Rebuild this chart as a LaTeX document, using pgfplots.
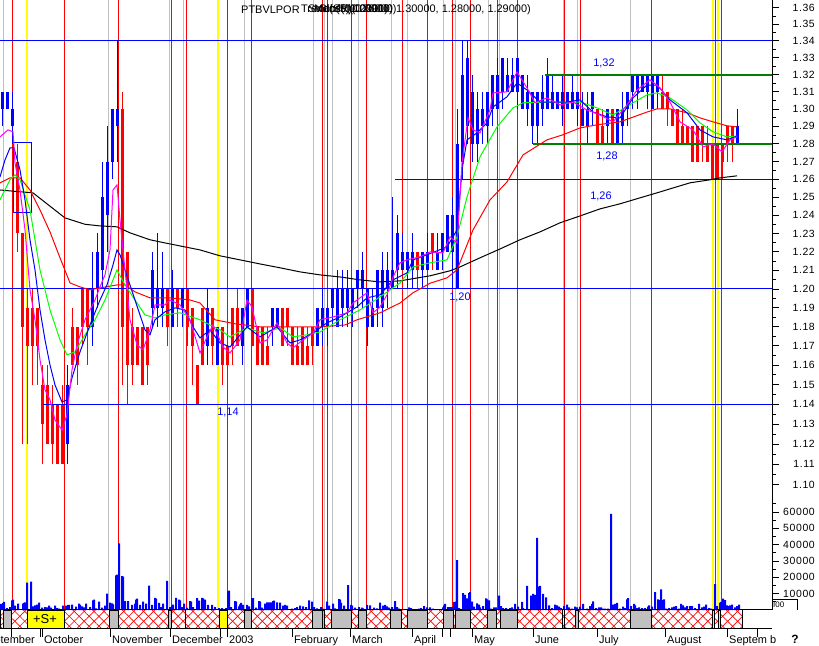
\documentclass[border=0pt]{standalone}
\usepackage{pgfplots}
\pgfplotsset{compat=1.18}
\usepackage{fontspec}
\setmainfont{Liberation Sans}
\newfontfamily\tickfont[LetterSpace=6]{Liberation Sans}
\usetikzlibrary{patterns.meta}
\definecolor{cred}{RGB}{255,0,0}
\definecolor{cblue}{RGB}{0,0,255}
\definecolor{cgreen}{RGB}{0,255,0}
\definecolor{dgreen}{RGB}{0,128,0}
\definecolor{cmag}{RGB}{255,0,255}
\definecolor{cgrey}{RGB}{192,192,192}
\definecolor{cyel}{RGB}{255,255,0}
\begin{document}
\begin{tikzpicture}
\path[use as bounding box] (0,0) rectangle (819bp,646bp);
% ================= PRICE PANEL =================
\begin{axis}[
  at={(0bp,36bp)}, anchor=south west,
  scale only axis, width=772bp, height=610bp,
  xmin=0, xmax=772, ymode=log, ymin=1.0402, ymax=1.3647,
  axis x line=none, axis y line*=right,
  y axis line style={-, black, line width=0.8bp},
  ytick={1.10,1.11,1.12,1.13,1.14,1.15,1.16,1.17,1.18,1.19,1.20,1.21,1.22,1.23,1.24,1.25,1.26,1.27,1.28,1.29,1.30,1.31,1.32,1.33,1.34,1.35,1.36},
  yticklabels={1.10,1.11,1.12,1.13,1.14,1.15,1.16,1.17,1.18,1.19,1.20,1.21,1.22,1.23,1.24,1.25,1.26,1.27,1.28,1.29,1.30,1.31,1.32,1.33,1.34,1.35,1.36},
  minor ytick={1.105,1.115,1.125,1.135,1.145,1.155,1.165,1.175,1.185,1.195,1.205,1.215,1.225,1.235,1.245,1.255,1.265,1.275,1.285,1.295,1.305,1.315,1.325,1.335,1.345,1.355},
  tick align=outside, major tick length=7bp, minor tick length=4bp,
  tick style={black, line width=0.8bp},
  yticklabel style={anchor=east, inner sep=0pt, xshift=36bp, font=\tickfont\fontsize{10.5}{12}\selectfont},
]
% vertical grey lines
\addplot[cgrey, line width=1bp, unbounded coords=jump] coordinates {
(3,1.0402)(3,1.3647)(3,nan)(108,1.0402)(108,1.3647)(108,nan)(169,1.0402)(169,1.3647)(169,nan)
(183,1.0402)(183,1.3647)(183,nan)(244,1.0402)(244,1.3647)(244,nan)(313,1.0402)(313,1.3647)(313,nan)
(324,1.0402)(324,1.3647)(324,nan)(332,1.0402)(332,1.3647)(332,nan)(358,1.0402)(358,1.3647)(358,nan)
(391,1.0402)(391,1.3647)(391,nan)(407,1.0402)(407,1.3647)(407,nan)(443,1.0402)(443,1.3647)(443,nan)
(455,1.0402)(455,1.3647)(455,nan)(488,1.0402)(488,1.3647)(488,nan)(499,1.0402)(499,1.3647)(499,nan)
(563,1.0402)(563,1.3647)(563,nan)(577,1.0402)(577,1.3647)(577,nan)(630,1.0402)(630,1.3647)(630,nan)};
% vertical red lines
\addplot[cred, line width=1bp, unbounded coords=jump] coordinates {
(12,1.0402)(12,1.3647)(12,nan)(64,1.0402)(64,1.3647)(64,nan)(118,1.0402)(118,1.3647)(118,nan)
(171,1.0402)(171,1.3647)(171,nan)(186,1.0402)(186,1.3647)(186,nan)(227,1.0402)(227,1.3647)(227,nan)
(251,1.0402)(251,1.3647)(251,nan)(322,1.0402)(322,1.3647)(322,nan)(327,1.0402)(327,1.3647)(327,nan)
(351,1.0402)(351,1.3647)(351,nan)(366,1.0402)(366,1.3647)(366,nan)(402,1.0402)(402,1.3647)(402,nan)
(427,1.0402)(427,1.3647)(427,nan)(452,1.0402)(452,1.3647)(452,nan)(470,1.0402)(470,1.3647)(470,nan)
(497,1.0402)(497,1.3647)(497,nan)(517,1.0402)(517,1.3647)(517,nan)(564,1.0402)(564,1.3647)(564,nan)
(580,1.0402)(580,1.3647)(580,nan)(651,1.0402)(651,1.3647)(651,nan)(715,1.0402)(715,1.3647)(715,nan)
(721,1.0402)(721,1.3647)(721,nan)};
% vertical yellow lines
\addplot[cyel, line width=1.5bp, unbounded coords=jump] coordinates {
(27,1.0402)(27,1.3647)(27,nan)(218,1.0402)(218,1.3647)(218,nan)(713,1.0402)(713,1.3647)(713,nan)
(718,1.0402)(718,1.3647)(718,nan)};
% ---- blue candles: wicks
\addplot[cblue, line width=1bp, unbounded coords=jump] coordinates {
(2,1.29)(2,1.31)(2,nan)(7,1.30)(7,1.31)(7,nan)(12,1.28)(12,1.31)(12,nan)(67,1.11)(67,1.16)(67,nan)
(92,1.17)(92,1.22)(92,nan)(97,1.19)(97,1.23)(97,nan)(102,1.20)(102,1.27)(102,nan)(107,1.22)(107,1.29)(107,nan)
(112,1.26)(112,1.30)(112,nan)(117,1.27)(117,1.34)(117,nan)(152,1.18)(152,1.22)(152,nan)(157,1.18)(157,1.23)(157,nan)
(162,1.18)(162,1.22)(162,nan)(172,1.18)(172,1.21)(172,nan)(182,1.18)(182,1.20)(182,nan)(207,1.16)(207,1.20)(207,nan)
(217,1.16)(217,1.18)(217,nan)(242,1.16)(242,1.19)(242,nan)(247,1.18)(247,1.20)(247,nan)(272,1.17)(272,1.19)(272,nan)
(277,1.18)(277,1.19)(277,nan)(317,1.17)(317,1.19)(317,nan)(322,1.17)(322,1.20)(322,nan)(327,1.17)(327,1.19)(327,nan)
(332,1.18)(332,1.20)(332,nan)(337,1.18)(337,1.21)(337,nan)(342,1.18)(342,1.21)(342,nan)(347,1.18)(347,1.21)(347,nan)
(352,1.18)(352,1.20)(352,nan)(357,1.19)(357,1.21)(357,nan)(362,1.19)(362,1.22)(362,nan)(367,1.17)(367,1.20)(367,nan)
(372,1.18)(372,1.20)(372,nan)(377,1.18)(377,1.21)(377,nan)(382,1.18)(382,1.22)(382,nan)(387,1.19)(387,1.22)(387,nan)
(392,1.20)(392,1.25)(392,nan)(397,1.20)(397,1.24)(397,nan)(402,1.21)(402,1.23)(402,nan)(407,1.20)(407,1.22)(407,nan)
(412,1.20)(412,1.23)(412,nan)(422,1.20)(422,1.22)(422,nan)(427,1.21)(427,1.23)(427,nan)(437,1.21)(437,1.23)(437,nan)
(442,1.21)(442,1.23)(442,nan)(447,1.22)(447,1.24)(447,nan)(452,1.20)(452,1.25)(452,nan)(457,1.20)(457,1.30)(457,nan)
(462,1.26)(462,1.34)(462,nan)(467,1.28)(467,1.34)(467,nan)(472,1.27)(472,1.32)(472,nan)(477,1.27)(477,1.31)(477,nan)
(482,1.28)(482,1.31)(482,nan)(487,1.28)(487,1.31)(487,nan)(492,1.29)(492,1.32)(492,nan)(497,1.30)(497,1.33)(497,nan)
(502,1.30)(502,1.33)(502,nan)(507,1.31)(507,1.33)(507,nan)(512,1.31)(512,1.33)(512,nan)(517,1.30)(517,1.33)(517,nan)
(522,1.30)(522,1.32)(522,nan)(527,1.29)(527,1.32)(527,nan)(532,1.28)(532,1.31)(532,nan)(537,1.28)(537,1.31)(537,nan)
(542,1.29)(542,1.32)(542,nan)(547,1.30)(547,1.33)(547,nan)(552,1.30)(552,1.32)(552,nan)(557,1.30)(557,1.31)(557,nan)
(562,1.29)(562,1.32)(562,nan)(567,1.30)(567,1.31)(567,nan)(572,1.30)(572,1.32)(572,nan)(577,1.29)(577,1.31)(577,nan)
(582,1.29)(582,1.31)(582,nan)(587,1.28)(587,1.31)(587,nan)(592,1.29)(592,1.31)(592,nan)(607,1.28)(607,1.30)(607,nan)
(617,1.28)(617,1.30)(617,nan)(622,1.28)(622,1.31)(622,nan)(627,1.29)(627,1.31)(627,nan)(632,1.30)(632,1.32)(632,nan)
(637,1.30)(637,1.32)(637,nan)(642,1.31)(642,1.32)(642,nan)(647,1.30)(647,1.32)(647,nan)(652,1.30)(652,1.32)(652,nan)
(657,1.30)(657,1.32)(657,nan)(737,1.28)(737,1.30)(737,nan)};
% ---- blue candles: bodies
\addplot[cblue, line width=3bp, unbounded coords=jump] coordinates {
(2,1.30)(2,1.31)(2,nan)(7,1.30)(7,1.31)(7,nan)(12,1.29)(12,1.30)(12,nan)(67,1.12)(67,1.15)(67,nan)
(92,1.18)(92,1.20)(92,nan)(97,1.20)(97,1.22)(97,nan)(102,1.21)(102,1.25)(102,nan)(107,1.24)(107,1.27)(107,nan)
(112,1.27)(112,1.30)(112,nan)(117,1.29)(117,1.30)(117,nan)(152,1.19)(152,1.21)(152,nan)(157,1.19)(157,1.20)(157,nan)
(162,1.19)(162,1.20)(162,nan)(172,1.18)(172,1.20)(172,nan)(182,1.19)(182,1.20)(182,nan)(207,1.17)(207,1.19)(207,nan)
(217,1.16)(217,1.18)(217,nan)(242,1.17)(242,1.19)(242,nan)(247,1.18)(247,1.20)(247,nan)(272,1.18)(272,1.19)(272,nan)
(277,1.18)(277,1.19)(277,nan)(317,1.17)(317,1.19)(317,nan)(322,1.18)(322,1.19)(322,nan)(327,1.18)(327,1.19)(327,nan)
(332,1.19)(332,1.20)(332,nan)(337,1.18)(337,1.20)(337,nan)(342,1.19)(342,1.20)(342,nan)(347,1.19)(347,1.20)(347,nan)
(352,1.19)(352,1.20)(352,nan)(357,1.20)(357,1.21)(357,nan)(362,1.20)(362,1.21)(362,nan)(367,1.18)(367,1.20)(367,nan)
(372,1.18)(372,1.19)(372,nan)(377,1.19)(377,1.21)(377,nan)(382,1.19)(382,1.21)(382,nan)(387,1.20)(387,1.21)(387,nan)
(392,1.20)(392,1.21)(392,nan)(397,1.21)(397,1.23)(397,nan)(402,1.21)(402,1.22)(402,nan)(407,1.21)(407,1.22)(407,nan)
(412,1.21)(412,1.22)(412,nan)(422,1.21)(422,1.22)(422,nan)(427,1.21)(427,1.22)(427,nan)(437,1.21)(437,1.22)(437,nan)
(442,1.22)(442,1.23)(442,nan)(447,1.22)(447,1.24)(447,nan)(452,1.22)(452,1.24)(452,nan)(457,1.20)(457,1.28)(457,nan)
(462,1.27)(462,1.32)(462,nan)(467,1.29)(467,1.33)(467,nan)(472,1.28)(472,1.31)(472,nan)(477,1.28)(477,1.30)(477,nan)
(482,1.29)(482,1.30)(482,nan)(487,1.29)(487,1.31)(487,nan)(492,1.30)(492,1.32)(492,nan)(497,1.30)(497,1.32)(497,nan)
(502,1.31)(502,1.33)(502,nan)(507,1.31)(507,1.32)(507,nan)(512,1.31)(512,1.32)(512,nan)(517,1.31)(517,1.33)(517,nan)
(522,1.30)(522,1.32)(522,nan)(527,1.30)(527,1.31)(527,nan)(532,1.29)(532,1.31)(532,nan)(537,1.29)(537,1.31)(537,nan)
(542,1.30)(542,1.31)(542,nan)(547,1.30)(547,1.32)(547,nan)(552,1.30)(552,1.31)(552,nan)(557,1.30)(557,1.31)(557,nan)
(562,1.30)(562,1.31)(562,nan)(567,1.30)(567,1.31)(567,nan)(572,1.30)(572,1.31)(572,nan)(577,1.30)(577,1.31)(577,nan)
(582,1.29)(582,1.30)(582,nan)(587,1.29)(587,1.30)(587,nan)(592,1.30)(592,1.31)(592,nan)(607,1.29)(607,1.30)(607,nan)
(617,1.28)(617,1.30)(617,nan)(622,1.29)(622,1.30)(622,nan)(627,1.30)(627,1.31)(627,nan)(632,1.31)(632,1.32)(632,nan)
(637,1.31)(637,1.32)(637,nan)(642,1.31)(642,1.32)(642,nan)(647,1.31)(647,1.32)(647,nan)(652,1.30)(652,1.32)(652,nan)
(657,1.31)(657,1.32)(657,nan)(737,1.28)(737,1.29)(737,nan)};
% ---- red candles: wicks
\addplot[cred, line width=1bp, unbounded coords=jump] coordinates {
(17,1.22)(17,1.28)(17,nan)(22,1.12)(22,1.23)(22,nan)(27,1.12)(27,1.20)(27,nan)(32,1.15)(32,1.20)(32,nan)
(37,1.15)(37,1.19)(37,nan)(42,1.11)(42,1.16)(42,nan)(47,1.12)(47,1.16)(47,nan)(52,1.11)(52,1.15)(52,nan)
(57,1.11)(57,1.14)(57,nan)(62,1.11)(62,1.15)(62,nan)(72,1.16)(72,1.19)(72,nan)(77,1.15)(77,1.18)(77,nan)
(82,1.17)(82,1.20)(82,nan)(87,1.16)(87,1.20)(87,nan)(122,1.15)(122,1.31)(122,nan)(127,1.14)(127,1.22)(127,nan)
(132,1.15)(132,1.19)(132,nan)(137,1.16)(137,1.18)(137,nan)(142,1.15)(142,1.18)(142,nan)(147,1.15)(147,1.18)(147,nan)
(167,1.17)(167,1.20)(167,nan)(177,1.18)(177,1.20)(177,nan)(187,1.17)(187,1.20)(187,nan)(192,1.15)(192,1.19)(192,nan)
(197,1.14)(197,1.16)(197,nan)(202,1.16)(202,1.19)(202,nan)(212,1.16)(212,1.19)(212,nan)(222,1.15)(222,1.18)(222,nan)
(227,1.15)(227,1.17)(227,nan)(232,1.16)(232,1.19)(232,nan)(237,1.17)(237,1.20)(237,nan)(252,1.17)(252,1.20)(252,nan)
(257,1.16)(257,1.18)(257,nan)(262,1.16)(262,1.18)(262,nan)(267,1.16)(267,1.18)(267,nan)(282,1.17)(282,1.19)(282,nan)
(287,1.17)(287,1.19)(287,nan)(292,1.16)(292,1.18)(292,nan)(297,1.16)(297,1.18)(297,nan)(302,1.16)(302,1.18)(302,nan)
(307,1.16)(307,1.18)(307,nan)(312,1.16)(312,1.18)(312,nan)(417,1.20)(417,1.22)(417,nan)(432,1.21)(432,1.23)(432,nan)
(597,1.28)(597,1.30)(597,nan)(602,1.28)(602,1.30)(602,nan)(612,1.28)(612,1.30)(612,nan)(662,1.30)(662,1.32)(662,nan)
(667,1.29)(667,1.31)(667,nan)(672,1.29)(672,1.30)(672,nan)(677,1.28)(677,1.30)(677,nan)(682,1.28)(682,1.30)(682,nan)
(687,1.28)(687,1.29)(687,nan)(692,1.27)(692,1.29)(692,nan)(697,1.27)(697,1.29)(697,nan)(702,1.27)(702,1.29)(702,nan)
(707,1.27)(707,1.29)(707,nan)(712,1.26)(712,1.28)(712,nan)(717,1.26)(717,1.28)(717,nan)(722,1.26)(722,1.28)(722,nan)
(727,1.27)(727,1.29)(727,nan)(732,1.27)(732,1.29)(732,nan)};
% ---- red candles: bodies
\addplot[cred, line width=3bp, unbounded coords=jump] coordinates {
(17,1.27)(17,1.23)(17,nan)(22,1.23)(22,1.18)(22,nan)(27,1.19)(27,1.17)(27,nan)(32,1.19)(32,1.17)(32,nan)
(37,1.19)(37,1.17)(37,nan)(42,1.15)(42,1.13)(42,nan)(47,1.15)(47,1.12)(47,nan)(52,1.14)(52,1.12)(52,nan)
(57,1.14)(57,1.11)(57,nan)(62,1.14)(62,1.11)(62,nan)(72,1.18)(72,1.16)(72,nan)(77,1.18)(77,1.16)(77,nan)
(82,1.20)(82,1.18)(82,nan)(87,1.20)(87,1.18)(87,nan)(122,1.30)(122,1.18)(122,nan)(127,1.22)(127,1.16)(127,nan)
(132,1.18)(132,1.16)(132,nan)(137,1.18)(137,1.16)(137,nan)(142,1.18)(142,1.15)(142,nan)(147,1.18)(147,1.16)(147,nan)
(167,1.20)(167,1.18)(167,nan)(177,1.20)(177,1.19)(177,nan)(187,1.20)(187,1.18)(187,nan)(192,1.19)(192,1.17)(192,nan)
(197,1.16)(197,1.14)(197,nan)(202,1.19)(202,1.16)(202,nan)(212,1.19)(212,1.17)(212,nan)(222,1.18)(222,1.16)(222,nan)
(227,1.17)(227,1.16)(227,nan)(232,1.19)(232,1.17)(232,nan)(237,1.19)(237,1.17)(237,nan)(252,1.20)(252,1.17)(252,nan)
(257,1.18)(257,1.16)(257,nan)(262,1.18)(262,1.16)(262,nan)(267,1.17)(267,1.16)(267,nan)(282,1.19)(282,1.17)(282,nan)
(287,1.19)(287,1.18)(287,nan)(292,1.18)(292,1.16)(292,nan)(297,1.17)(297,1.16)(297,nan)(302,1.18)(302,1.16)(302,nan)
(307,1.17)(307,1.16)(307,nan)(312,1.18)(312,1.17)(312,nan)(417,1.22)(417,1.21)(417,nan)(432,1.23)(432,1.22)(432,nan)
(597,1.30)(597,1.28)(597,nan)(602,1.29)(602,1.28)(602,nan)(612,1.30)(612,1.28)(612,nan)(662,1.31)(662,1.30)(662,nan)
(667,1.31)(667,1.30)(667,nan)(672,1.30)(672,1.29)(672,nan)(677,1.30)(677,1.28)(677,nan)(682,1.29)(682,1.28)(682,nan)
(687,1.29)(687,1.28)(687,nan)(692,1.29)(692,1.27)(692,nan)(697,1.29)(697,1.27)(697,nan)(702,1.29)(702,1.28)(702,nan)
(707,1.28)(707,1.27)(707,nan)(712,1.28)(712,1.26)(712,nan)(717,1.28)(717,1.26)(717,nan)(722,1.28)(722,1.27)(722,nan)
(727,1.29)(727,1.28)(727,nan)(732,1.29)(732,1.28)(732,nan)};
% blue box
\addplot[cblue, line width=1bp] coordinates {(13,1.2806)(31,1.2806)(31,1.2413)(13,1.2413)(13,1.2806)};
% horizontal lines
\addplot[cblue, line width=1bp] coordinates {(0,1.34)(772,1.34)};
\addplot[cblue, line width=1bp] coordinates {(0,1.20)(772,1.20)};
\addplot[cblue, line width=1bp] coordinates {(43,1.14)(772,1.14)};
\addplot[cblue, line width=1bp] coordinates {(395,1.26)(772,1.26)};
\addplot[dgreen, line width=2.5bp] coordinates {(545,1.32)(772,1.32)};
\addplot[dgreen, line width=2.5bp] coordinates {(533,1.28)(772,1.28)};
% moving averages
\addplot[black, line width=1bp] coordinates {(0,1.254)(20,1.253)(33,1.2524)(50,1.245)(65,1.2385)(85,1.235)(100,1.2341)(117,1.2336)(130,1.2303)(150,1.2265)(165,1.2248)(185,1.2226)(200,1.221)(220,1.2178)(240,1.2156)(260,1.2134)(280,1.2113)(300,1.2091)(320,1.2075)(340,1.2064)(360,1.2048)(380,1.2037)(400,1.2043)(430,1.207)(450,1.2097)(460,1.2118)(480,1.2167)(500,1.2215)(520,1.2265)(540,1.2308)(560,1.2358)(580,1.2396)(600,1.2435)(620,1.2463)(640,1.2496)(660,1.2529)(670,1.2546)(690,1.258)(710,1.2597)(720,1.2608)(737,1.2619)};
\addplot[cred, line width=1bp] coordinates {(0,1.258)(10,1.2608)(20,1.2608)(30,1.254)(40,1.2429)(50,1.2308)(60,1.2167)(70,1.2032)(80,1.2011)(90,1.1995)(100,1.2005)(117,1.2021)(125,1.2021)(135,1.1984)(150,1.1952)(170,1.1952)(190,1.1941)(200,1.1925)(215,1.1836)(235,1.1815)(260,1.1799)(290,1.1799)(320,1.1799)(345,1.1809)(357,1.1836)(380,1.1873)(400,1.1925)(413,1.1979)(430,1.2030)(447,1.2059)(457,1.2102)(473,1.2319)(490,1.2485)(507,1.2585)(523,1.2737)(547,1.2823)(563,1.2852)(580,1.2891)(597,1.2909)(620,1.2926)(647,1.2983)(657,1.3001)(670,1.3001)(687,1.2978)(700,1.2949)(713,1.2926)(727,1.2903)(737,1.2897)};
\addplot[cgreen, line width=1bp] coordinates {(0,1.2485)(10,1.2597)(15,1.2625)(20,1.2597)(30,1.2429)(40,1.2102)(50,1.1888)(60,1.1731)(67,1.1653)(75,1.1668)(85,1.1757)(95,1.1836)(105,1.1941)(117,1.2102)(125,1.2021)(135,1.1941)(145,1.1862)(155,1.1846)(165,1.1862)(180,1.1873)(200,1.1836)(210,1.1809)(220,1.1783)(230,1.1746)(247,1.1794)(263,1.1767)(280,1.1794)(293,1.1746)(307,1.1757)(320,1.1772)(340,1.1836)(360,1.1888)(380,1.1957)(400,1.2032)(413,1.2118)(430,1.2140)(447,1.2156)(457,1.2281)(467,1.2501)(480,1.2726)(497,1.2897)(513,1.3007)(523,1.3036)(547,1.3041)(567,1.3041)(580,1.3041)(597,1.3007)(613,1.2966)(633,1.3036)(647,1.3082)(657,1.3094)(670,1.3065)(687,1.2995)(700,1.2920)(713,1.2869)(727,1.2840)(737,1.2845)};
\addplot[cblue, line width=1bp] coordinates {(0,1.2613)(5,1.2709)(10,1.2777)(14,1.2777)(20,1.2653)(25,1.2485)(30,1.2265)(35,1.2102)(40,1.1888)(45,1.1731)(50,1.1601)(55,1.1498)(62,1.1411)(67,1.1422)(72,1.1534)(80,1.1668)(90,1.1809)(100,1.1941)(107,1.2021)(113,1.2129)(117,1.2210)(120,1.2183)(125,1.2102)(135,1.1941)(145,1.1783)(150,1.1757)(155,1.1836)(165,1.1878)(175,1.1899)(185,1.1888)(193,1.1799)(200,1.1741)(210,1.1783)(220,1.1715)(230,1.1694)(247,1.1799)(260,1.1746)(277,1.1799)(290,1.1715)(300,1.1731)(313,1.1767)(327,1.1820)(340,1.1851)(357,1.1904)(367,1.1952)(380,1.1968)(393,1.2048)(407,1.2086)(413,1.2156)(430,1.2190)(447,1.2226)(457,1.2319)(462,1.2653)(467,1.2823)(477,1.2863)(487,1.2920)(493,1.3012)(507,1.3071)(517,1.3152)(527,1.3111)(540,1.3041)(553,1.3041)(567,1.3041)(580,1.3053)(593,1.2983)(607,1.2955)(620,1.2949)(633,1.3065)(647,1.3140)(657,1.3140)(670,1.3053)(687,1.2978)(700,1.2880)(713,1.2840)(727,1.2823)(737,1.2845)};
\addplot[cmag, line width=1bp] coordinates {(0,1.284)(8,1.288)(13,1.2869)(15,1.2692)(20,1.2540)(25,1.2319)(30,1.1995)(35,1.1836)(40,1.1627)(45,1.1473)(50,1.1422)(55,1.1320)(62,1.1270)(67,1.1346)(72,1.1575)(77,1.1705)(85,1.1836)(95,1.1941)(100,1.2011)(105,1.2075)(110,1.2210)(113,1.2540)(117,1.2568)(120,1.2374)(125,1.2102)(130,1.1836)(137,1.1705)(143,1.1679)(150,1.1783)(155,1.1915)(165,1.1915)(170,1.1941)(180,1.1915)(190,1.1836)(200,1.1663)(207,1.1746)(213,1.1809)(223,1.1694)(230,1.1663)(240,1.1731)(247,1.1941)(252,1.1904)(260,1.1715)(267,1.1731)(277,1.1820)(287,1.1715)(293,1.1689)(303,1.1731)(313,1.1767)(320,1.1836)(333,1.1851)(347,1.1873)(353,1.1925)(367,1.1979)(373,1.1873)(380,1.1904)(387,1.1968)(393,1.2064)(400,1.2140)(407,1.2156)(420,1.2172)(430,1.2199)(443,1.2194)(450,1.2281)(457,1.2248)(462,1.2692)(468,1.2949)(473,1.2880)(480,1.2863)(490,1.2995)(493,1.3094)(507,1.3100)(517,1.3217)(527,1.3123)(535,1.3036)(547,1.3065)(560,1.3024)(573,1.3041)(587,1.2995)(600,1.2966)(613,1.2926)(627,1.3024)(637,1.3111)(650,1.3170)(660,1.3123)(670,1.3041)(680,1.2926)(693,1.2880)(703,1.2783)(713,1.2800)(722,1.2754)(730,1.2823)(737,1.2840)};
% level labels
\node[text=cblue, font=\fontsize{11}{13}\selectfont] at (axis cs:604,1.3264) {1,32};
\node[text=cblue, font=\fontsize{11}{13}\selectfont] at (axis cs:607,1.2726) {1,28};
\node[text=cblue, font=\fontsize{11}{13}\selectfont] at (axis cs:601,1.2507) {1,26};
\node[text=cblue, font=\fontsize{11}{13}\selectfont] at (axis cs:460,1.1952) {1,20};
\node[text=cblue, font=\fontsize{11}{13}\selectfont] at (axis cs:228,1.1356) {1,14};
% title (overlapping texts, as in the reference)
\node[anchor=west, inner sep=0pt, font=\fontsize{11}{13}\selectfont] at (axis cs:241,1.3586) {PTBVLPOR};
\node[anchor=east, inner sep=0pt, font=\fontsize{11}{13}\selectfont] at (axis cs:531,1.3586) {Close(1.28000, 1.30000, 1.28000, 1.29000)};
\node[anchor=west, inner sep=0pt, font=\fontsize{11}{13}\selectfont] at (axis cs:301,1.3586) {Trend(SR)(0.0000)};
\node[anchor=west, inner sep=0pt, font=\fontsize{11}{13}\selectfont] at (axis cs:308,1.3586) {Stoch(5)(1.26000)};
\node[anchor=west, inner sep=0pt, font=\fontsize{11}{13}\selectfont] at (axis cs:314,1.3586) {Macd(0.00291)};
\end{axis}
% ================= VOLUME =================
\begin{axis}[
  at={(0bp,36bp)}, anchor=south west,
  scale only axis, width=772bp, height=110bp,
  xmin=0, xmax=772, ymin=0, ymax=67360,
  axis x line=none, axis y line*=right,
  y axis line style={-, black, line width=0.8bp},
  scaled y ticks=false,
  ytick={10000,20000,30000,40000,50000,60000},
  yticklabels={10000,20000,30000,40000,50000,60000},
  minor ytick={5000,15000,25000,35000,45000,55000,65000},
  tick align=outside, major tick length=7bp, minor tick length=4bp,
  tick style={black, line width=0.8bp},
  yticklabel style={anchor=east, inner sep=0pt, xshift=36bp, font=\tickfont\fontsize{10.5}{12}\selectfont},
  clip=false,
]
\addplot[ybar, bar width=2bp, fill=cblue, draw=none] coordinates {
(1,3700)(3,4300)(4,4900)(7,1200)(10,1800)(12,5900)(13,6300)(15,2700)(18,3900)(23,3900)(24,4300)(25,4700)(27,16700)(31,17300)(33,2200)(35,2900)(37,3300)(39,4500)(42,1400)(45,1800)(47,1600)(49,2700)(51,1400)(55,2700)(57,1200)(59,800)(63,2700)(66,2700)(68,3100)(69,3100)(72,3300)(76,2000)(79,3900)(80,3100)(82,2200)(84,1600)(86,3900)(90,1800)(93,5900)(94,6300)(96,1000)(99,5100)(102,1400)(105,2700)(107,10000)(110,4500)(112,4100)(113,3500)(116,21200)(117,21600)(119,40800)(122,20800)(123,20400)(125,5500)(128,5500)(132,3100)(135,3900)(136,6300)(137,6900)(140,3100)(143,5100)(146,3900)(149,14900)(152,3100)(155,7500)(156,6900)(159,4300)(161,1800)(163,3900)(167,17900)(170,1800)(172,2700)(173,3300)(176,7500)(179,6300)(180,5900)(182,1800)(184,3900)(187,1400)(190,5500)(191,5100)(193,1800)(197,7300)(199,5700)(202,7500)(203,7100)(205,6300)(208,3100)(212,3100)(215,1800)(219,1200)(222,1200)(226,1200)(228,11400)(229,11800)(231,1800)(235,5500)(236,5100)(239,2200)(240,3500)(241,4300)(243,3100)(247,3100)(249,2200)(252,7300)(253,7300)(256,1400)(259,5500)(260,5100)(262,1400)(265,3900)(267,4700)(269,4700)(271,4700)(273,5500)(274,5700)(277,4700)(280,4500)(283,2700)(285,3100)(287,2700)(292,800)(295,1200)(297,1800)(300,2700)(303,2200)(306,1800)(309,5900)(312,5100)(314,1800)(317,1000)(321,1800)(323,800)(327,5100)(329,2700)(333,3900)(335,1000)(339,6700)(340,6300)(341,4300)(344,2700)(348,15300)(351,3100)(352,2700)(355,1400)(359,1800)(362,1400)(363,1000)(367,3100)(370,2900)(374,1400)(377,1000)(380,4500)(383,2700)(385,3100)(387,2200)(389,1400)(392,1800)(395,5500)(397,1800)(399,800)
(401,600)(404,600)(407,600)(409,1600)(411,1200)(413,600)(415,600)(417,600)(419,800)(421,1200)(424,2400)(427,1600)(430,1600)(433,800)(435,600)(437,600)(440,600)(443,1600)(444,2900)(445,3700)(448,1800)(450,1800)(452,1800)(454,4900)(456,5100)(457,30600)(459,1200)(463,10400)(465,9200)(467,7100)(469,10400)(470,11000)(472,5100)(474,2000)(477,4100)(479,3300)(480,1600)(483,2400)(486,7100)(487,6500)(489,5900)(491,800)(494,1600)(496,1600)(499,8800)(501,2400)(503,1200)(506,1200)(510,1200)(512,1600)(515,3700)(518,2000)(522,4900)(523,1200)(527,14700)(531,8800)(533,9800)(535,9200)(537,44100)(539,14300)(540,14700)(543,9800)(546,7800)(549,2900)(552,1200)(555,3300)(557,2900)(559,2000)(561,1200)(564,2400)(567,3300)(569,1600)(572,800)(575,2000)(577,1600)(580,2000)(583,3700)(587,800)(590,2400)(592,3700)(593,5300)(596,1200)(599,1600)(601,1600)(603,800)(605,800)(608,800)(611,58800)(613,3300)(615,3700)(617,4300)(620,800)(623,2000)(625,1200)(627,6500)(628,7300)(631,2400)(634,3700)(635,2900)(637,1200)(639,1600)(642,1200)(645,1200)(648,2000)(649,2900)(652,2000)(655,11000)(658,6500)(659,6100)(661,12700)(662,6100)(664,6500)(666,800)(669,1200)(672,1600)(674,2000)(676,2400)(679,800)(681,3700)(683,2900)(685,1600)(687,2400)(690,2400)(692,2400)(695,1200)(699,3700)(702,1600)(704,2000)(706,3300)(709,1200)(711,800)(715,15900)(716,1600)(717,2400)(720,4500)(721,4900)(723,6900)(725,6100)(727,2900)(729,2400)(730,2900)(732,3300)(735,1600)(737,2400)(739,3300)};
% small box at the foot of the volume scale
\addplot[black, line width=0.8bp] coordinates {(772,6736)(797,6736)(797,0)};
\node[anchor=west, inner sep=0pt, font=\fontsize{8}{9}\selectfont] at (axis cs:773,3300) {I00};
\end{axis}
% ================= BAND + DATE AXIS =================
\begin{axis}[
  at={(0bp,18bp)}, anchor=south west,
  scale only axis, width=772bp, height=18bp,
  xmin=0, xmax=772, ymin=0, ymax=1,
  axis y line=none, axis x line*=bottom,
  x axis line style={-, black, line width=1bp},
  xtick={11,40,42,110,170,220,227,292,350,412,442,450,472,533,597,665,727,757},
  xticklabels={},
  tick align=outside, major tick length=9bp,
  tick style={black, line width=0.8bp},
  clip=false,
]
\addplot[draw=none, pattern={Lines[angle=45,distance=7bp,line width=0.7bp]}, pattern color=cred] coordinates {(0,1)(742,1)} \closedcycle;
\addplot[draw=none, pattern={Lines[angle=-45,distance=7bp,line width=0.7bp]}, pattern color=cred] coordinates {(0,1)(742,1)} \closedcycle;
% grey blocks
\addplot[fill=cgrey, draw=black, line width=0.8bp] coordinates {(3,1)(11,1)} \closedcycle;
\addplot[fill=cgrey, draw=black, line width=0.8bp] coordinates {(109,1)(118,1)} \closedcycle;
\addplot[fill=cgrey, draw=black, line width=0.8bp] coordinates {(168,1)(171,1)} \closedcycle;
\addplot[fill=cgrey, draw=black, line width=0.8bp] coordinates {(244,1)(251,1)} \closedcycle;
\addplot[fill=cgrey, draw=black, line width=0.8bp] coordinates {(312,1)(322,1)} \closedcycle;
\addplot[fill=cgrey, draw=black, line width=0.8bp] coordinates {(322,1)(324,1)} \closedcycle;
\addplot[fill=cgrey, draw=black, line width=0.8bp] coordinates {(331,1)(351,1)} \closedcycle;
\addplot[fill=cgrey, draw=black, line width=0.8bp] coordinates {(358,1)(366,1)} \closedcycle;
\addplot[fill=cgrey, draw=black, line width=0.8bp] coordinates {(390,1)(401,1)} \closedcycle;
\addplot[fill=cgrey, draw=black, line width=0.8bp] coordinates {(407,1)(427,1)} \closedcycle;
\addplot[fill=cgrey, draw=black, line width=0.8bp] coordinates {(443,1)(453,1)} \closedcycle;
\addplot[fill=cgrey, draw=black, line width=0.8bp] coordinates {(455,1)(470,1)} \closedcycle;
\addplot[fill=cgrey, draw=black, line width=0.8bp] coordinates {(487,1)(496,1)} \closedcycle;
\addplot[fill=cgrey, draw=black, line width=0.8bp] coordinates {(500,1)(517,1)} \closedcycle;
\addplot[fill=cgrey, draw=black, line width=0.8bp] coordinates {(575,1)(578,1)} \closedcycle;
\addplot[fill=cgrey, draw=black, line width=0.8bp] coordinates {(630,1)(651,1)} \closedcycle;
% yellow blocks
\addplot[fill=cyel, draw=black, line width=0.8bp] coordinates {(27,1)(64,1)} \closedcycle;
\addplot[fill=cyel, draw=black, line width=0.8bp] coordinates {(219,1)(227,1)} \closedcycle;
\addplot[fill=cyel, draw=black, line width=0.8bp] coordinates {(712,1)(714,1)} \closedcycle;
\addplot[fill=cyel, draw=black, line width=0.8bp] coordinates {(718,1)(720,1)} \closedcycle;
% separators and top line
\addplot[black, line width=0.8bp, unbounded coords=jump] coordinates {(0,0)(0,1)(0,nan)(185,0)(185,1)(185,nan)(562,0)(562,1)(562,nan)(564,0)(564,1)(564,nan)(742,0)(742,1)(742,nan)};
\addplot[black, line width=1bp] coordinates {(0,1)(772,1)};
\node[font=\fontsize{13}{15}\selectfont] at (axis cs:45,0.5) {+S+};
% month labels
\node[anchor=base west, inner sep=0pt, yshift=-15bp, font=\fontsize{11}{13}\selectfont] at (axis cs:-19,0) {September};
\node[anchor=base west, inner sep=0pt, yshift=-15bp, font=\fontsize{11}{13}\selectfont] at (axis cs:44,0) {October};
\node[anchor=base west, inner sep=0pt, yshift=-15bp, font=\fontsize{11}{13}\selectfont] at (axis cs:112,0) {November};
\node[anchor=base west, inner sep=0pt, yshift=-15bp, font=\fontsize{11}{13}\selectfont] at (axis cs:172,0) {December};
\node[anchor=base west, inner sep=0pt, yshift=-15bp, font=\fontsize{11}{13}\selectfont] at (axis cs:229,0) {2003};
\node[anchor=base west, inner sep=0pt, yshift=-15bp, font=\fontsize{11}{13}\selectfont] at (axis cs:294,0) {February};
\node[anchor=base west, inner sep=0pt, yshift=-15bp, font=\fontsize{11}{13}\selectfont] at (axis cs:352,0) {March};
\node[anchor=base west, inner sep=0pt, yshift=-15bp, font=\fontsize{11}{13}\selectfont] at (axis cs:414,0) {April};
\node[anchor=base west, inner sep=0pt, yshift=-15bp, font=\fontsize{11}{13}\selectfont] at (axis cs:474,0) {May};
\node[anchor=base west, inner sep=0pt, yshift=-15bp, font=\fontsize{11}{13}\selectfont] at (axis cs:535,0) {June};
\node[anchor=base west, inner sep=0pt, yshift=-15bp, font=\fontsize{11}{13}\selectfont] at (axis cs:599,0) {July};
\node[anchor=base west, inner sep=0pt, yshift=-15bp, font=\fontsize{11}{13}\selectfont] at (axis cs:667,0) {August};
\node[anchor=base west, inner sep=0pt, yshift=-15bp, font=\fontsize{11}{13}\selectfont] at (axis cs:729,0) {Septem b};
\node[anchor=base, inner sep=0pt, yshift=-15bp, font=\bfseries\fontsize{12}{14}\selectfont] at (axis cs:795,0) {?};
\end{axis}
\end{tikzpicture}
\end{document}
